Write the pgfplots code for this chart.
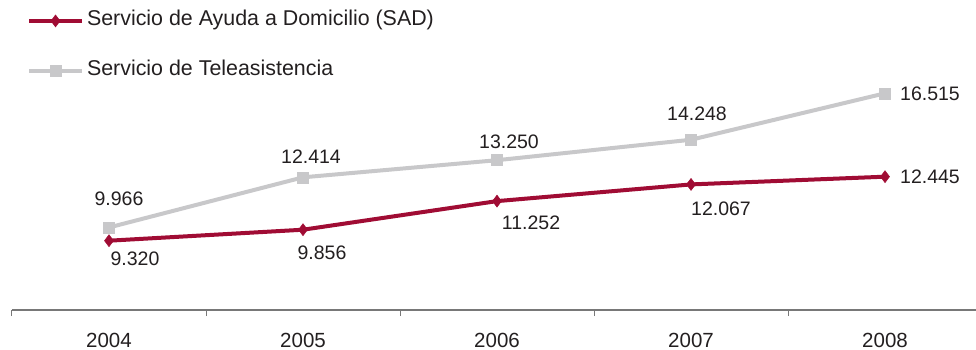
\documentclass[border=0pt]{standalone}
\usepackage{fontspec}
\setmainfont{Liberation Sans}
\usepackage{pgfplots}
\pgfplotsset{compat=1.18}
\usepackage{pgfplotstable}

\definecolor{sad}{RGB}{160,12,52}
\definecolor{tele}{RGB}{200,200,202}
\definecolor{txt}{RGB}{35,31,32}
\definecolor{axisgray}{RGB}{120,120,120}

% x y label dx dy (label offsets in pt)
\pgfplotstableread{
x y lbl dx dy
0 9320 9.320 26 -18
1 9856 9.856 19 -23
2 11252 11.252 34 -22
3 12067 12.067 30 -24
4 12445 12.445 45 0
}\sad

\pgfplotstableread{
x y lbl dx dy
0 9966 9.966 10 29
1 12414 12.414 8 21
2 13250 13.250 12 18
3 14248 14.248 6 26
4 16515 16.515 45 0
}\tele

\begin{document}
\begin{tikzpicture}
\useasboundingbox (-12pt,-40pt) rectangle (964pt,310pt);
\begin{axis}[
    at={(0pt,0pt)}, anchor=south west,
    scale only axis,
    width=964pt, height=310pt,
    xmin=-0.5, xmax=4.469,
    ymin=5937, ymax=21070,
    axis x line=bottom,
    axis y line=none,
    axis line style={axisgray, line width=1.2pt, -},
    xtick={0,1,2,3,4},
    xticklabels={2004,2005,2006,2007,2008},
    major tick length=0pt,
    minor xtick={-0.5,0.5,1.5,2.5,3.5},
    minor tick length=6pt,
    tick align=outside,
    minor tick style={axisgray, line width=1pt},
    xticklabel style={anchor=north, inner sep=0pt, yshift=-22.5pt,
        font=\fontsize{20.5}{20.5}\selectfont, text=txt},
    clip=false,
    legend style={at={(0.0156,0.9615)}, anchor=north west,
        draw=none, fill=none, inner sep=0pt, outer sep=0pt,
        row sep=32pt,
        font=\fontsize{21.4}{21.4}\selectfont, text=txt,
        nodes={inner sep=0pt, text height=14pt, text depth=4pt},
        /tikz/every odd column/.append style={column sep=3pt}},
    legend cell align=left,
    legend image code/.code={\draw[mark repeat=2,mark phase=2] plot coordinates {(0pt,0pt) (26.5pt,0pt) (53pt,0pt)};},
    nodes near coords,
    point meta=explicit symbolic,
    visualization depends on={\thisrow{dx} \as \dx},
    visualization depends on={\thisrow{dy} \as \dy},
    nodes near coords style={anchor=center, inner sep=0pt,
        xshift=\dx pt, yshift=\dy pt,
        font=\fontsize{19.5}{19.5}\selectfont, text=txt},
]

% Servicio de Ayuda a Domicilio
\addplot[color=sad, line width=4pt, mark=diamond*, mark size=6pt,
    mark options={solid, line width=0.5pt}]
    table[x=x, y=y, meta=lbl] {\sad};
\addlegendentry{Servicio de Ayuda a Domicilio (SAD)}

% Servicio de Teleasistencia
\addplot[color=tele, line width=4pt, mark=square*, mark size=5.5pt,
    mark options={solid, line width=0.5pt}]
    table[x=x, y=y, meta=lbl] {\tele};
\addlegendentry{Servicio de Teleasistencia}

\end{axis}
\end{tikzpicture}
\end{document}
